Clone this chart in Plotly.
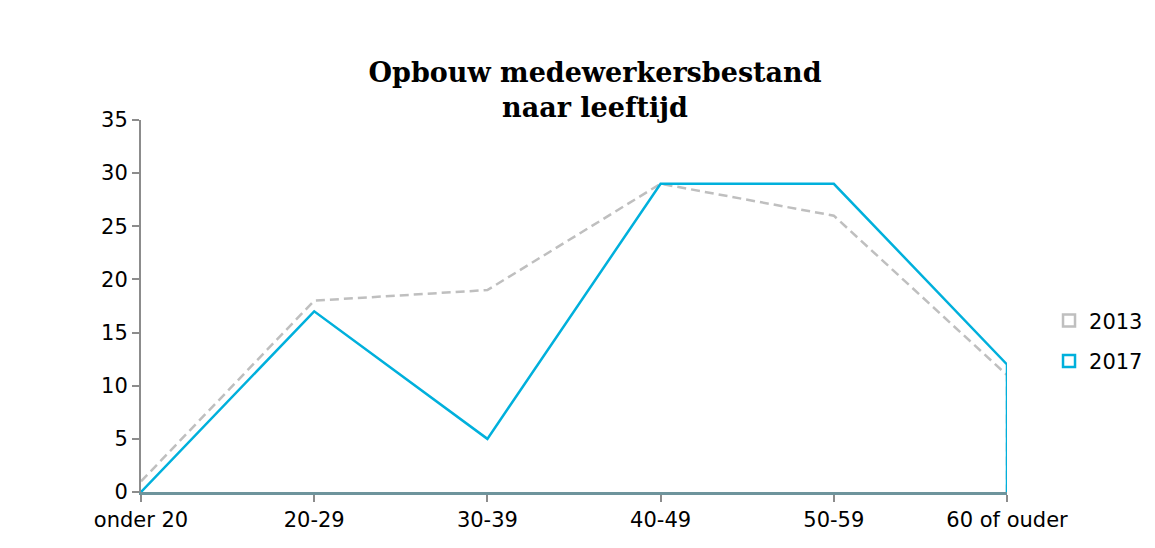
import plotly.graph_objects as go

categories = ["onder 20", "20-29", "30-39", "40-49", "50-59", "60 of ouder"]
values_2013 = [1, 18, 19, 29, 26, 11]
values_2017 = [0, 17, 5, 29, 29, 12]
y_ticks = [0, 5, 10, 15, 20, 25, 30, 35]

GRAY = "#bfbfbf"
BLUE = "#00b0dc"

def outline(vals):
    # Excel area-chart outline: series line, then down to the baseline
    xs = list(range(len(categories))) + [len(categories) - 1]
    ys = list(vals) + [0]
    return xs, ys

fig = go.Figure()

x13, y13 = outline(values_2013)
fig.add_trace(go.Scatter(x=x13, y=y13, mode="lines", cliponaxis=False,
                         line=dict(color=GRAY, width=2.5, dash="9px,5px"),
                         showlegend=False, hoverinfo="skip"))
x17, y17 = outline(values_2017)
fig.add_trace(go.Scatter(x=x17, y=y17, mode="lines", cliponaxis=False,
                         line=dict(color=BLUE, width=2.5),
                         showlegend=False, hoverinfo="skip"))

# legend entries
fig.add_trace(go.Scatter(x=[None], y=[None], mode="markers", name="2013",
                         legendgroup="a",
                         marker=dict(symbol="square-open", size=12, color=GRAY,
                                     line=dict(width=2.5, color=GRAY))))
fig.add_trace(go.Scatter(x=[None], y=[None], mode="markers", name="2017",
                         legendgroup="b",
                         marker=dict(symbol="square-open", size=12, color=BLUE,
                                     line=dict(width=2.5, color=BLUE))))

# page body has an 8px margin, so the figure is sized/offset to compensate
fig.update_layout(
    width=1147, height=540,
    margin=dict(l=133, r=148, t=112, b=56, autoexpand=False),
    paper_bgcolor="white", plot_bgcolor="white",
    font=dict(family="DejaVu Sans", size=21, color="#000000"),
    title=dict(text="<b>Opbouw medewerkersbestand<br>naar leeftijd</b>",
               x=0.5118, xref="container", xanchor="center",
               y=0.863, yref="container", yanchor="middle",
               font=dict(family="DejaVu Serif", size=27, color="#000000")),
    legend=dict(x=0.9076, xref="container", y=0.406, xanchor="left", yanchor="middle",
                font=dict(size=21), tracegroupgap=10,
                traceorder="grouped", itemwidth=30,
                bgcolor="rgba(0,0,0,0)"),
    xaxis=dict(range=[0, len(categories) - 1],
               tickmode="array", tickvals=list(range(len(categories))),
               ticktext=categories,
               showgrid=False, zeroline=False,
               showline=True, linecolor="#6e949c", linewidth=2.5,
               ticks="outside", ticklen=7, tickcolor="#8c8c8c", tickwidth=2,
               fixedrange=True),
    yaxis=dict(range=[0, 35], tickvals=y_ticks,
               showgrid=False, zeroline=False,
               showline=True, linecolor="#8c8c8c", linewidth=2,
               ticks="outside", ticklen=7, tickcolor="#8c8c8c", tickwidth=2,
               fixedrange=True),
)

fig.write_html("out.html")
